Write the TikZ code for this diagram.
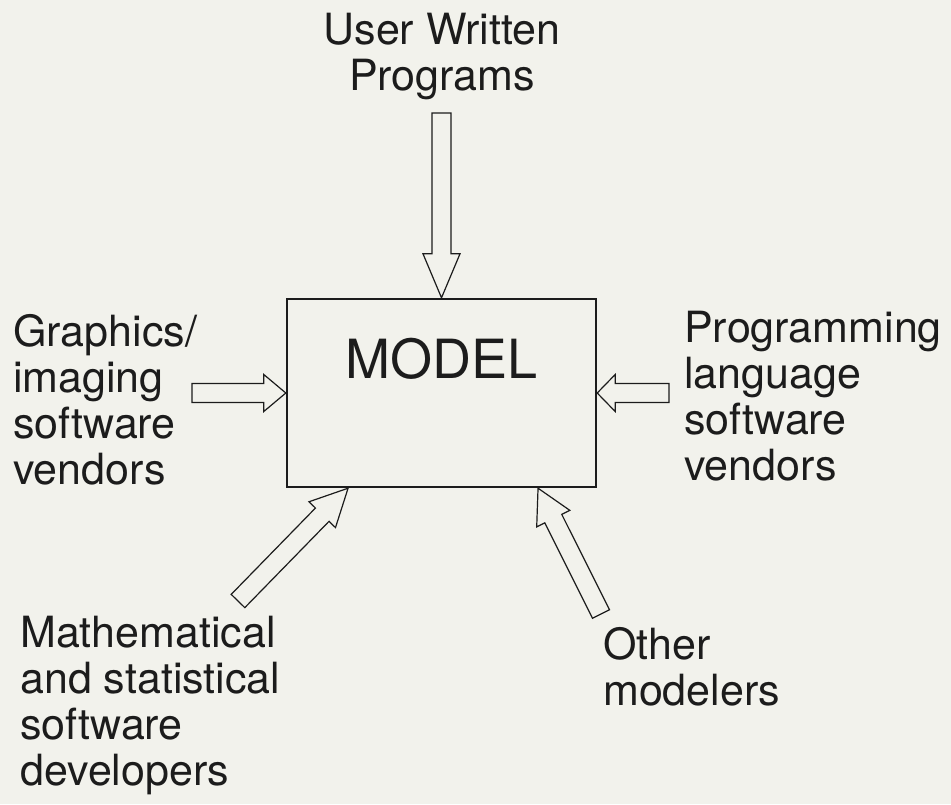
\documentclass[tikz,border=0pt]{standalone}
\usepackage{fontspec}
\setmainfont{TeX Gyre Heros}
\usetikzlibrary{calc}

\definecolor{paper}{RGB}{242,242,236}
\definecolor{ink}{RGB}{28,28,28}

% block arrow from tail #2 to tip #3, head length #1
\newcommand{\fatarrow}[3][36pt]{%
  \draw[fat]
    ($(#2)!9.5pt!90:(#3)$) --
    ($($(#3)!#1!(#2)$)!9.5pt!90:(#3)$) --
    ($($(#3)!#1!(#2)$)!18.5pt!90:(#3)$) --
    (#3) --
    ($($(#3)!#1!(#2)$)!18.5pt!-90:(#3)$) --
    ($($(#3)!#1!(#2)$)!9.5pt!-90:(#3)$) --
    ($(#2)!9.5pt!-90:(#3)$) -- cycle;}

\begin{document}
\begin{tikzpicture}[x=1pt, y=-1pt,
    box/.style = {draw=ink, line width=2.4pt, minimum width=309pt, inner xsep=0pt, inner ysep=40pt,
                  text height=39pt, text depth=69pt, text=ink, font=\fontsize{54}{60}\selectfont},
    txt/.style = {font=\fontsize{43}{46}\selectfont, text=ink, inner sep=0pt, align=left},
    fat/.style = {draw=ink, fill=paper, line width=1.2pt, line join=miter}]
        \fill[paper] (0,0) rectangle (951,804);
        \useasboundingbox (0,0) rectangle (951,804);
        \node[box] (model) at (441.5,393) {MODEL};
        \node[txt, align=center, anchor=north] (user) at (442,13) {User Written\\Programs};
        \node[txt, anchor=north west] (graphics) at (13,314) {Graphics/\\imaging\\software\\vendors};
        \node[txt, anchor=north west] (prog) at (684,311) {Programming\\language\\software\\vendors};
        \node[txt, anchor=north west] (math) at (20,616) {Mathematical\\and statistical\\software\\developers};
        \node[txt, anchor=north west] (other) at (603,627) {Other\\modelers};
        \coordinate (usertail) at (441.5,113);
        \coordinate (graphicstail) at (192,393);
        \coordinate (progtail) at (669,393);
        \coordinate (mathtail) at (238,601);
        \coordinate (othertail) at (601,614);
        \coordinate (mathtip) at ($(model.south west)!.2!(model.south east)$);
        \coordinate (othertip) at ($(model.south west)!.81!(model.south east)$);
        \fatarrow[44pt]{usertail}{model.north}
        \fatarrow[22pt]{graphicstail}{model.west}
        \fatarrow[18pt]{progtail}{model.east}
        \fatarrow[37pt]{mathtail}{mathtip}
        \fatarrow[34pt]{othertail}{othertip}
\end{tikzpicture}
\end{document}
